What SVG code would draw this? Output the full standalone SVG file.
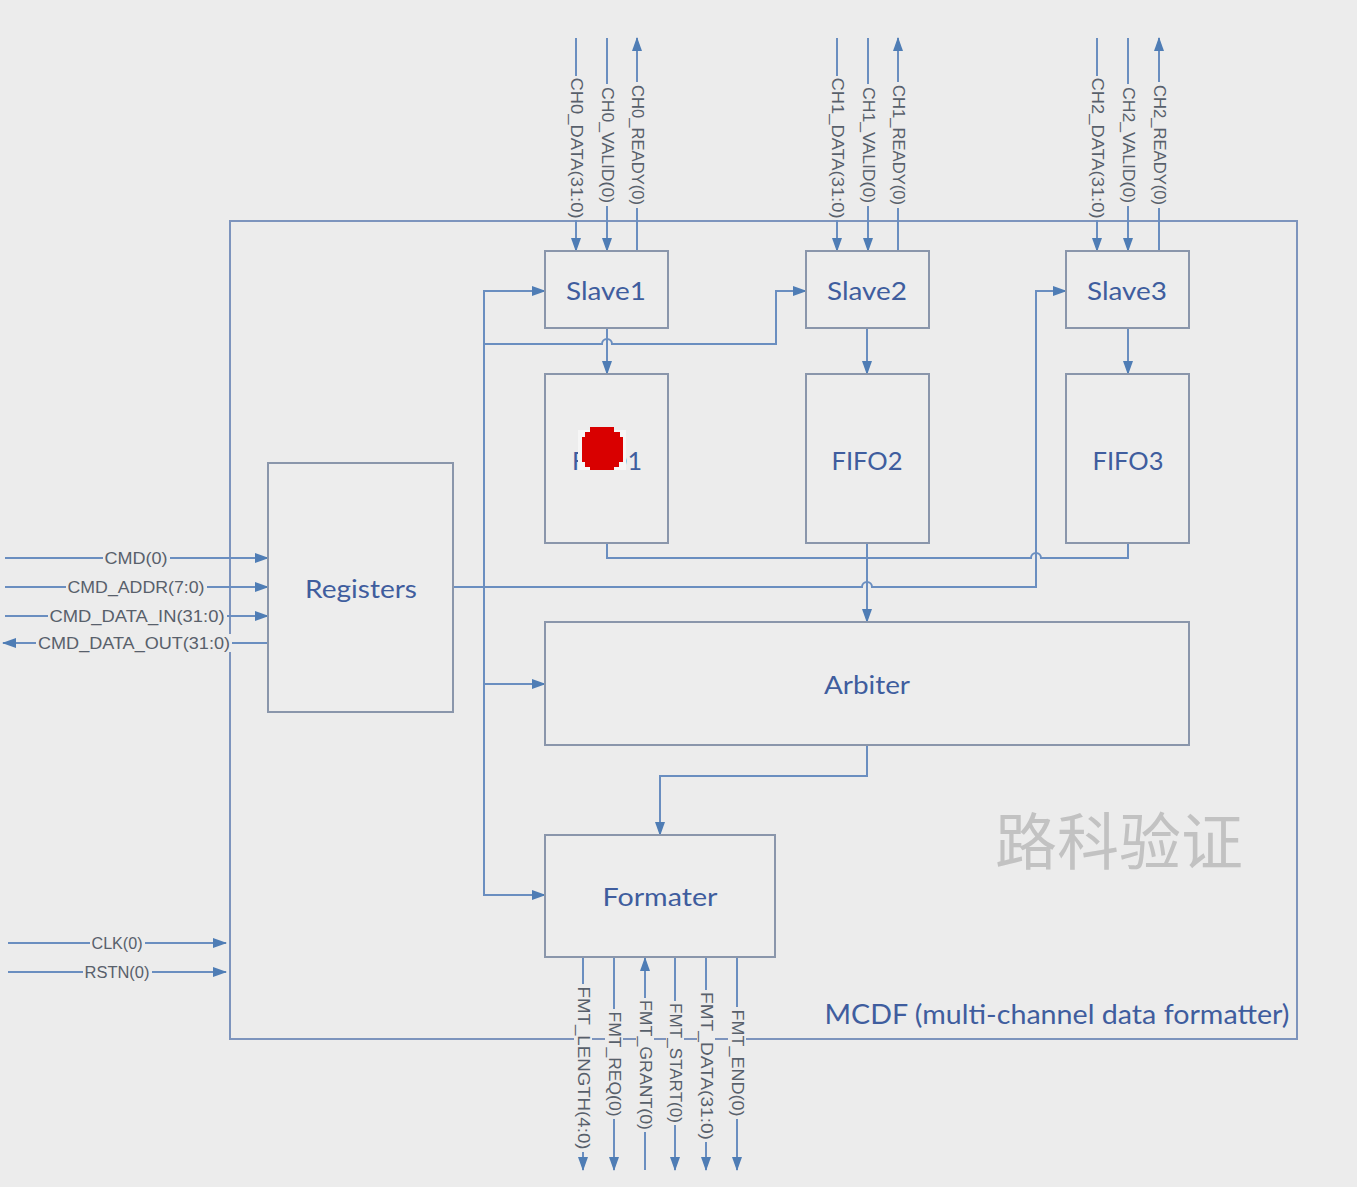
<svg xmlns="http://www.w3.org/2000/svg" width="1357" height="1187" viewBox="0 0 1357 1187">
<defs>
<marker id="ah" markerUnits="userSpaceOnUse" markerWidth="14" markerHeight="10" refX="13" refY="5" orient="auto">
<path d="M0,0 L14,5 L0,10 z" fill="#4f7db5"/>
</marker>
<style>
.bg{fill:#ececec}
.box{fill:#ededed;stroke:#8a96ab;stroke-width:2}
.outer{fill:none;stroke:#7d94bd;stroke-width:2}
.ln{fill:none;stroke:#6a8ec0;stroke-width:2}
.sig{fill:none;stroke:#6a8ec0;stroke-width:2}
.lbl{font-family:"Lato","Open Sans",sans-serif;font-size:25px;fill:#3f5d9e;text-anchor:middle;dominant-baseline:central}
.st{font-family:"Liberation Sans",Arial,sans-serif;font-size:16px;fill:#58606b;text-anchor:middle;dominant-baseline:central}
</style>
</defs>
<rect x="0" y="0" width="1357" height="1187" class="bg"/>

<g id="mcdf">
<rect x="230" y="221" width="1067" height="818" class="outer"/>
<text x="1057" y="1014" class="lbl" font-size="26" textLength="465" lengthAdjust="spacingAndGlyphs" style="font-size:26px">MCDF (multi-channel data formatter)</text>
</g>

<g id="watermark">
<text x="995" y="865" font-family="'Noto Sans CJK SC',sans-serif" font-size="62" fill="#c2c2c2">路科验证</text>
</g>

<g id="connectors">
<!-- top channel signals -->
<path class="sig" d="M576,38 V251" marker-end="url(#ah)"/>
<path class="sig" d="M607,38 V251" marker-end="url(#ah)"/>
<path class="sig" d="M637,251 V38" marker-end="url(#ah)"/>
<path class="sig" d="M837,38 V251" marker-end="url(#ah)"/>
<path class="sig" d="M868,38 V251" marker-end="url(#ah)"/>
<path class="sig" d="M898,251 V38" marker-end="url(#ah)"/>
<path class="sig" d="M1097,38 V251" marker-end="url(#ah)"/>
<path class="sig" d="M1128,38 V251" marker-end="url(#ah)"/>
<path class="sig" d="M1159,251 V38" marker-end="url(#ah)"/>
<!-- left signals -->
<path class="sig" d="M5,558 H268" marker-end="url(#ah)"/>
<path class="sig" d="M5,587 H268" marker-end="url(#ah)"/>
<path class="sig" d="M5,616 H268" marker-end="url(#ah)"/>
<path class="sig" d="M268,643 H3" marker-end="url(#ah)"/>
<path class="sig" d="M8,943 H226" marker-end="url(#ah)"/>
<path class="sig" d="M8,972 H226" marker-end="url(#ah)"/>
<!-- bottom formatter signals -->
<path class="sig" d="M583,957 V1170" marker-end="url(#ah)"/>
<path class="sig" d="M614,957 V1170" marker-end="url(#ah)"/>
<path class="sig" d="M645,1170 V958" marker-end="url(#ah)"/>
<path class="sig" d="M675,957 V1170" marker-end="url(#ah)"/>
<path class="sig" d="M706,957 V1170" marker-end="url(#ah)"/>
<path class="sig" d="M737,957 V1170" marker-end="url(#ah)"/>
<!-- internal -->
<path class="ln" d="M484,344 V291 H545" marker-end="url(#ah)"/>
<path class="ln" d="M484,344 V895 H545" marker-end="url(#ah)"/>
<path class="ln" d="M484,684 H545" marker-end="url(#ah)"/>
<path class="ln" d="M484,344 H602 A5,5 0 0 1 612,344 H776 V291 H806" marker-end="url(#ah)"/>
<path class="ln" d="M453,587 H862 A5,5 0 0 1 872,587 H1036 V291 H1066" marker-end="url(#ah)"/>
<path class="ln" d="M607,328 V374" marker-end="url(#ah)"/>
<path class="ln" d="M867,328 V374" marker-end="url(#ah)"/>
<path class="ln" d="M1128,328 V374" marker-end="url(#ah)"/>
<path class="ln" d="M607,543 V558 H1031 A5,5 0 0 1 1041,558 H1128 V543"/>
<path class="ln" d="M867,543 V622" marker-end="url(#ah)"/>
<path class="ln" d="M867,745 V776 H660 V835" marker-end="url(#ah)"/>
</g>

<g id="signal-labels">
<g transform="translate(576,148) rotate(90)"><rect x="-72" y="-9" width="144" height="18" class="bg"/><text class="st" textLength="141" lengthAdjust="spacingAndGlyphs">CH0_DATA(31:0)</text></g>
<g transform="translate(607,145) rotate(90)"><rect x="-61" y="-9" width="122" height="18" class="bg"/><text class="st" textLength="116" lengthAdjust="spacingAndGlyphs">CH0_VALID(0)</text></g>
<g transform="translate(637,145) rotate(90)"><rect x="-63" y="-9" width="126" height="18" class="bg"/><text class="st" textLength="120" lengthAdjust="spacingAndGlyphs">CH0_READY(0)</text></g>
<g transform="translate(837,148) rotate(90)"><rect x="-72" y="-9" width="144" height="18" class="bg"/><text class="st" textLength="141" lengthAdjust="spacingAndGlyphs">CH1_DATA(31:0)</text></g>
<g transform="translate(868,145) rotate(90)"><rect x="-61" y="-9" width="122" height="18" class="bg"/><text class="st" textLength="116" lengthAdjust="spacingAndGlyphs">CH1_VALID(0)</text></g>
<g transform="translate(898,145) rotate(90)"><rect x="-63" y="-9" width="126" height="18" class="bg"/><text class="st" textLength="120" lengthAdjust="spacingAndGlyphs">CH1_READY(0)</text></g>
<g transform="translate(1097,148) rotate(90)"><rect x="-72" y="-9" width="144" height="18" class="bg"/><text class="st" textLength="141" lengthAdjust="spacingAndGlyphs">CH2_DATA(31:0)</text></g>
<g transform="translate(1128,145) rotate(90)"><rect x="-61" y="-9" width="122" height="18" class="bg"/><text class="st" textLength="116" lengthAdjust="spacingAndGlyphs">CH2_VALID(0)</text></g>
<g transform="translate(1159,145) rotate(90)"><rect x="-63" y="-9" width="126" height="18" class="bg"/><text class="st" textLength="120" lengthAdjust="spacingAndGlyphs">CH2_READY(0)</text></g>

<rect x="103" y="549" width="67" height="18" class="bg"/><text x="136" y="558" class="st" textLength="63" lengthAdjust="spacingAndGlyphs">CMD(0)</text>
<rect x="66" y="578" width="141" height="18" class="bg"/><text x="136" y="587" class="st" textLength="137" lengthAdjust="spacingAndGlyphs">CMD_ADDR(7:0)</text>
<rect x="48" y="607" width="179" height="18" class="bg"/><text x="137" y="616" class="st" textLength="175" lengthAdjust="spacingAndGlyphs">CMD_DATA_IN(31:0)</text>
<rect x="36" y="634" width="196" height="18" class="bg"/><text x="134" y="643" class="st" textLength="192" lengthAdjust="spacingAndGlyphs">CMD_DATA_OUT(31:0)</text>
<rect x="90" y="934" width="55" height="18" class="bg"/><text x="117" y="943" class="st" textLength="51" lengthAdjust="spacingAndGlyphs">CLK(0)</text>
<rect x="83" y="963" width="69" height="18" class="bg"/><text x="117" y="972" class="st" textLength="65" lengthAdjust="spacingAndGlyphs">RSTN(0)</text>

<g transform="translate(583,1068) rotate(90)"><rect x="-84" y="-9" width="168" height="18" class="bg"/><text class="st" textLength="163" lengthAdjust="spacingAndGlyphs">FMT_LENGTH(4:0)</text></g>
<g transform="translate(614,1064) rotate(90)"><rect x="-55" y="-9" width="110" height="18" class="bg"/><text class="st" textLength="105" lengthAdjust="spacingAndGlyphs">FMT_REQ(0)</text></g>
<g transform="translate(645,1065) rotate(90)"><rect x="-67" y="-9" width="134" height="18" class="bg"/><text class="st" textLength="130" lengthAdjust="spacingAndGlyphs">FMT_GRANT(0)</text></g>
<g transform="translate(675,1063) rotate(90)"><rect x="-62" y="-9" width="124" height="18" class="bg"/><text class="st" textLength="120" lengthAdjust="spacingAndGlyphs">FMT_START(0)</text></g>
<g transform="translate(706,1066) rotate(90)"><rect x="-76" y="-9" width="152" height="18" class="bg"/><text class="st" textLength="148" lengthAdjust="spacingAndGlyphs">FMT_DATA(31:0)</text></g>
<g transform="translate(737,1063) rotate(90)"><rect x="-56" y="-9" width="112" height="18" class="bg"/><text class="st" textLength="107" lengthAdjust="spacingAndGlyphs">FMT_END(0)</text></g>
</g>

<g id="slave1"><rect x="545" y="251" width="123" height="77" class="box"/><text x="606" y="290" class="lbl" textLength="80" lengthAdjust="spacingAndGlyphs">Slave1</text></g>
<g id="slave2"><rect x="806" y="251" width="123" height="77" class="box"/><text x="867" y="290" class="lbl" textLength="80" lengthAdjust="spacingAndGlyphs">Slave2</text></g>
<g id="slave3"><rect x="1066" y="251" width="123" height="77" class="box"/><text x="1127" y="290" class="lbl" textLength="80" lengthAdjust="spacingAndGlyphs">Slave3</text></g>

<g id="fifo1"><rect x="545" y="374" width="123" height="169" class="box"/><text x="607" y="460" class="lbl" textLength="70" lengthAdjust="spacingAndGlyphs">FIFO1</text>
<path d="M578,430 H626 V470 H578 z" fill="#f6f6f6"/>
<path d="M590,427 H614 V432 H620 V437 H623 V462 H619 V467 H614 V470 H590 V467 H585 V462 H582 V437 H585 V432 H590 z" fill="#d90000"/>
</g>
<g id="fifo2"><rect x="806" y="374" width="123" height="169" class="box"/><text x="867" y="460" class="lbl" textLength="71" lengthAdjust="spacingAndGlyphs">FIFO2</text></g>
<g id="fifo3"><rect x="1066" y="374" width="123" height="169" class="box"/><text x="1128" y="460" class="lbl" textLength="71" lengthAdjust="spacingAndGlyphs">FIFO3</text></g>

<g id="registers"><rect x="268" y="463" width="185" height="249" class="box"/><text x="361" y="588" class="lbl" textLength="112" lengthAdjust="spacingAndGlyphs">Registers</text></g>
<g id="arbiter"><rect x="545" y="622" width="644" height="123" class="box"/><text x="867" y="684" class="lbl" textLength="86" lengthAdjust="spacingAndGlyphs">Arbiter</text></g>
<g id="formater"><rect x="545" y="835" width="230" height="122" class="box"/><text x="660" y="896" class="lbl" textLength="115" lengthAdjust="spacingAndGlyphs">Formater</text></g>
</svg>
